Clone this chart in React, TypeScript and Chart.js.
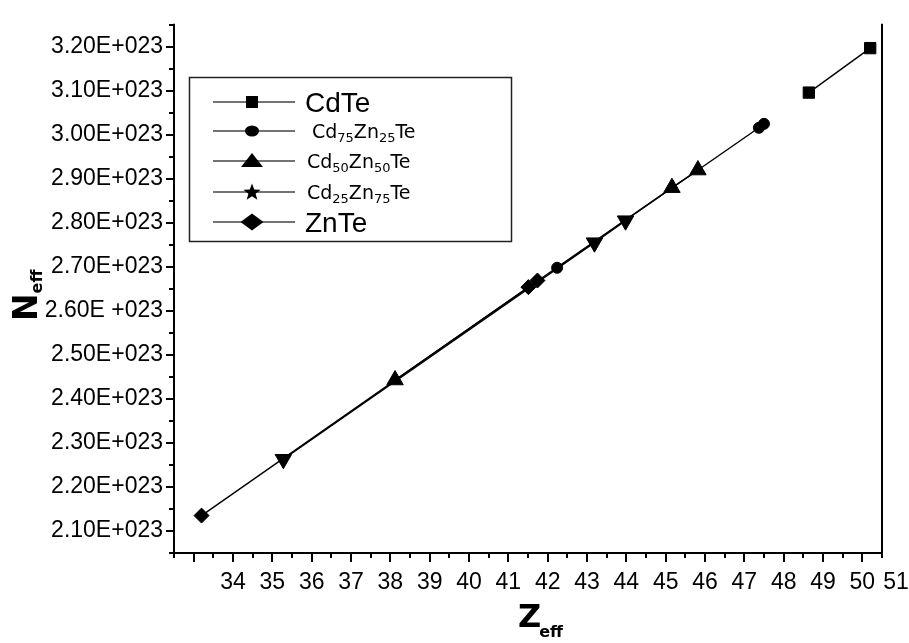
import React, { useEffect, useRef } from 'react';
import { Chart, registerables } from 'chart.js';

Chart.register(...registerables);

// ---- data (Z_eff on x, N_eff on y) ----
const CDTE_Z = [48.64, 50.2];
const CDTE_N = [3.096e23, 3.197e23];
const CD75_Z = [42.24, 47.37, 47.5];
const CD75_N = [2.698e23, 3.016e23, 3.025e23];
const CD50_Z = [38.12, 45.16, 45.82];
const CD50_N = [2.443e23, 2.88e23, 2.92e23];
const CD25_Z = [35.28, 43.19, 43.98];
const CD25_N = [2.263e23, 2.755e23, 2.805e23];
const ZNTE_Z = [33.2, 41.51, 41.74];
const ZNTE_N = [2.135e23, 2.654e23, 2.669e23];

// legend entries: [main, sub, main, sub, main]
const LEGEND_CDTE = ['CdTe'];
const LEGEND_CD75 = ['Cd', '75', 'Zn', '25', 'Te'];
const LEGEND_CD50 = ['Cd', '50', 'Zn', '50', 'Te'];
const LEGEND_CD25 = ['Cd', '25', 'Zn', '75', 'Te'];
const LEGEND_ZNTE = ['ZnTe'];

// ticks
const X_TICK_VALUES = [33, 34, 35, 36, 37, 38, 39, 40, 41, 42, 43, 44, 45, 46, 47, 48, 49, 50];
const X_TICK_LABELS = ['', '34', '35', '36', '37', '38', '39', '40', '41', '42', '43', '44', '45', '46', '47', '48', '49', '50'];
const X_EXTRA_LABEL = '51';
const Y_TICK_VALUES = [2.1e23, 2.2e23, 2.3e23, 2.4e23, 2.5e23, 2.6e23, 2.7e23, 2.8e23, 2.9e23, 3.0e23, 3.1e23, 3.2e23];
const Y_TICK_LABELS = ['2.10E+023', '2.20E+023', '2.30E+023', '2.40E+023', '2.50E+023', '2.60E +023', '2.70E+023', '2.80E+023', '2.90E+023', '3.00E+023', '3.10E+023', '3.20E+023'];
const X_MIN = 32.5, X_MAX = 50.5, X_MINOR = 0.5;
const Y_MIN = 2.05e23, Y_MAX = 3.25e23, Y_MINOR = 0.05e23;

const X_TITLE = ['Z', 'eff'];
const Y_TITLE = ['N', 'eff'];

const FONT = 'Liberation Sans, Arial, sans-serif';
const FONT_SMALL = 'DejaVu Sans, sans-serif';
const FONT_BOLD = 'DejaVu Sans, sans-serif';

const pts = (xs: number[], ys: number[]) => xs.map((x, i) => ({ x, y: ys[i] }));

function drawMarker(ctx: CanvasRenderingContext2D, kind: string, x: number, y: number) {
  ctx.save();
  ctx.fillStyle = '#000';
  ctx.beginPath();
  if (kind === 'square') {
    ctx.rect(x - 6, y - 6, 12, 12);
  } else if (kind === 'circle') {
    ctx.ellipse(x, y, 7, 5.5, 0, 0, Math.PI * 2);
  } else if (kind === 'tri') {
    ctx.moveTo(x, y - 8);
    ctx.lineTo(x + 11, y + 6);
    ctx.lineTo(x - 11, y + 6);
    ctx.closePath();
  } else if (kind === 'star') {
    const R = 9, r = 3.8;
    for (let i = 0; i < 10; i++) {
      const a = -Math.PI / 2 + (i * Math.PI) / 5;
      const rr = i % 2 === 0 ? R : r;
      const px = x + rr * Math.cos(a), py = y + rr * Math.sin(a) + 0.5;
      if (i === 0) ctx.moveTo(px, py); else ctx.lineTo(px, py);
    }
    ctx.closePath();
  } else if (kind === 'diamond') {
    ctx.moveTo(x - 11.5, y);
    ctx.lineTo(x, y - 8.5);
    ctx.lineTo(x + 11.5, y);
    ctx.lineTo(x, y + 8.5);
    ctx.closePath();
  }
  ctx.fill();
  ctx.restore();
}

function drawSubText(ctx: CanvasRenderingContext2D, parts: string[], x: number, y: number, size: number, subSize: number, family: string) {
  let cx = x;
  parts.forEach((p, i) => {
    const isSub = i % 2 === 1;
    ctx.font = `${isSub ? subSize : size}px ${family}`;
    ctx.textBaseline = 'alphabetic';
    ctx.textAlign = 'left';
    ctx.fillText(p, cx, isSub ? y + 4 : y);
    cx += ctx.measureText(p).width;
  });
}

const framePlugin = {
  id: 'frame',
  afterDraw(chart: any) {
    const ctx: CanvasRenderingContext2D = chart.ctx;
    const xs = chart.scales.x;
    const ys = chart.scales.y;
    const { left, right, top, bottom } = chart.chartArea;
    ctx.save();
    ctx.strokeStyle = '#000';
    ctx.fillStyle = '#000';
    ctx.lineWidth = 2;
    // axes
    ctx.beginPath();
    ctx.moveTo(left, top - 1);
    ctx.lineTo(left, bottom + 4);
    ctx.moveTo(left - 4, bottom);
    ctx.lineTo(right + 1, bottom);
    ctx.moveTo(right, top - 1);
    ctx.lineTo(right, bottom + 1);
    ctx.stroke();
    // x ticks
    ctx.beginPath();
    for (let v = X_MIN; v <= X_MAX + 1e-9; v += X_MINOR) {
      const px = Math.round(xs.getPixelForValue(v));
      const major = Math.abs(v - Math.round(v)) < 1e-6;
      ctx.moveTo(px, bottom);
      ctx.lineTo(px, bottom + (major ? 9 : 5));
    }
    // y ticks
    const n = Math.round((Y_MAX - Y_MIN) / Y_MINOR);
    for (let i = 0; i <= n; i++) {
      const v = Y_MIN + i * Y_MINOR;
      const py = Math.round(ys.getPixelForValue(v));
      const major = i % 2 === 1;
      ctx.moveTo(left, py);
      ctx.lineTo(left - (major ? 8 : 5), py);
    }
    ctx.stroke();

    // extra x label
    ctx.font = `23px ${FONT}`;
    ctx.textAlign = 'center';
    ctx.textBaseline = 'middle';
    ctx.fillText(X_EXTRA_LABEL, xs.getPixelForValue(X_MAX) + 14, bottom + 30);

    // axis titles
    ctx.textAlign = 'left';
    ctx.textBaseline = 'alphabetic';
    ctx.font = `bold 32px ${FONT_BOLD}`;
    ctx.fillText(X_TITLE[0], 518, 627);
    const zw = ctx.measureText(X_TITLE[0]).width;
    ctx.font = `bold 16px ${FONT_BOLD}`;
    ctx.fillText(X_TITLE[1], 518 + zw - 2, 637);

    ctx.save();
    ctx.translate(37, 321);
    ctx.rotate(-Math.PI / 2);
    ctx.font = `bold 33px ${FONT_BOLD}`;
    ctx.fillText(Y_TITLE[0], 0, 0);
    const nw = ctx.measureText(Y_TITLE[0]).width;
    ctx.font = `bold 16px ${FONT_BOLD}`;
    ctx.fillText(Y_TITLE[1], nw, 5);
    ctx.restore();

    // legend
    ctx.lineWidth = 1.5;
    ctx.strokeStyle = '#222';
    ctx.strokeRect(189.5, 77.5, 322, 164);
    const rows = [
      { y: 102, kind: 'square', parts: LEGEND_CDTE, tx: 305, big: true },
      { y: 131, kind: 'circle', parts: LEGEND_CD75, tx: 312, big: false },
      { y: 161, kind: 'tri', parts: LEGEND_CD50, tx: 307, big: false },
      { y: 192, kind: 'star', parts: LEGEND_CD25, tx: 307, big: false },
      { y: 222, kind: 'diamond', parts: LEGEND_ZNTE, tx: 305, big: true },
    ];
    rows.forEach((r) => {
      ctx.strokeStyle = '#444';
      ctx.lineWidth = 1.3;
      ctx.beginPath();
      ctx.moveTo(213, r.y);
      ctx.lineTo(295, r.y);
      ctx.stroke();
      drawMarker(ctx, r.kind, 252, r.y);
      ctx.fillStyle = '#000';
      if (r.big) drawSubText(ctx, r.parts, r.tx, r.y + 10, 28, 16, FONT);
      else drawSubText(ctx, r.parts, r.tx, r.y + 7, 19, 13, FONT_SMALL);
    });
    ctx.restore();
  },
};

export default function App() {
  const ref = useRef<HTMLCanvasElement | null>(null);
  useEffect(() => {
    if (!ref.current) return;
    const base = {
      showLine: true,
      borderColor: '#000',
      borderWidth: 1.4,
      backgroundColor: '#000',
      pointBackgroundColor: '#000',
      pointBorderColor: '#000',
      pointBorderWidth: 1,
      tension: 0,
    };
    const chart = new Chart(ref.current, {
      type: 'scatter',
      data: {
        datasets: [
          { ...base, label: 'CdTe', data: pts(CDTE_Z, CDTE_N), pointStyle: 'rect', pointRadius: 8 },
          { ...base, label: 'Cd75Zn25Te', data: pts(CD75_Z, CD75_N), pointStyle: 'circle', pointRadius: 5.5 },
          { ...base, label: 'Cd50Zn50Te', data: pts(CD50_Z, CD50_N), pointStyle: 'triangle', pointRadius: 9.5 },
          { ...base, label: 'Cd25Zn75Te', data: pts(CD25_Z, CD25_N), pointStyle: 'triangle', rotation: 180, pointRotation: 180, pointRadius: 9.5 },
          { ...base, label: 'ZnTe', data: pts(ZNTE_Z, ZNTE_N), pointStyle: 'rectRot', pointRadius: 7.5 },
        ] as any,
      },
      options: {
        animation: false,
        responsive: false,
        devicePixelRatio: 1,
        layout: { padding: { left: 0, right: 27, top: 8, bottom: 0 } },
        plugins: { legend: { display: false }, tooltip: { enabled: false }, title: { display: false } },
        scales: {
          x: {
            type: 'linear',
            min: X_MIN,
            max: X_MAX,
            afterBuildTicks: (s: any) => { s.ticks = X_TICK_VALUES.map((v) => ({ value: v })); },
            afterFit: (s: any) => { s.height = 90; },
            grid: { display: false, drawTicks: false },
            border: { display: false },
            ticks: {
              autoSkip: false,
              maxRotation: 0,
              padding: 16,
              color: '#000',
              font: { family: FONT, size: 23 },
              callback: (_v: any, i: number) => X_TICK_LABELS[i],
            },
          },
          y: {
            type: 'linear',
            min: Y_MIN,
            max: Y_MAX,
            afterBuildTicks: (s: any) => { s.ticks = Y_TICK_VALUES.map((v) => ({ value: v })); },
            afterFit: (s: any) => { s.width = 174; },
            grid: { display: false, drawTicks: false },
            border: { display: false },
            ticks: {
              autoSkip: false,
              padding: 11,
              color: '#000',
              font: { family: FONT, size: 23 },
              callback: (_v: any, i: number) => Y_TICK_LABELS[i],
            },
          },
        },
      } as any,
      plugins: [framePlugin],
    });
    return () => chart.destroy();
  }, []);
  return (
    <div style={{ position: 'absolute', left: 0, top: 0, width: 909, height: 643, background: '#fff' }}>
      <canvas ref={ref} width={909} height={643} style={{ display: 'block' }} />
    </div>
  );
}
